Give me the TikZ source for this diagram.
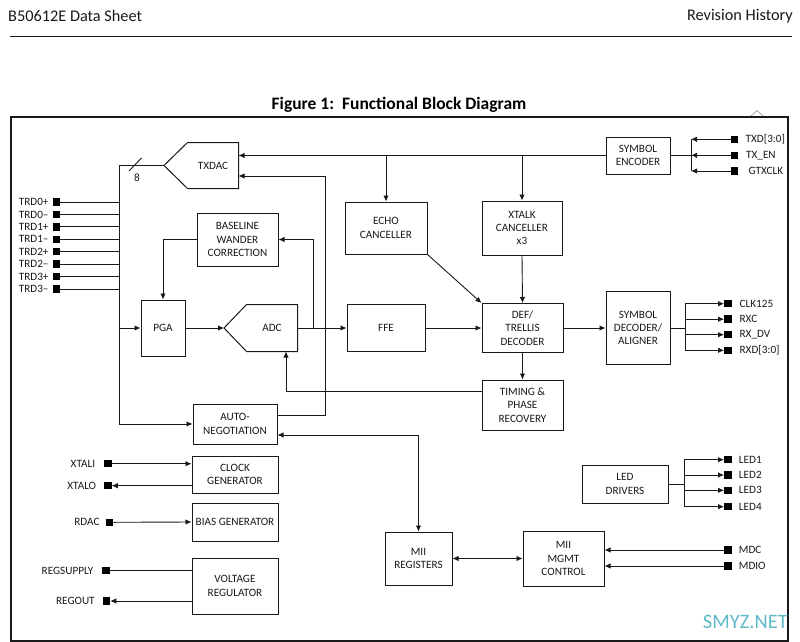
\documentclass[tikz,border=0pt]{standalone}
\usepackage{fontspec}
\setmainfont{Carlito}
\usetikzlibrary{arrows.meta,calc}
\definecolor{wm}{RGB}{95,185,200}
\definecolor{ink}{RGB}{25,25,25}
\begin{document}
\begin{tikzpicture}[x=1pt,y=-1pt,
  every node/.style={font=\fontsize{11.2}{13.3}\selectfont, text=ink},
  blk/.style={draw=ink, line width=1pt, align=center, inner sep=0pt},
  pin/.style={fill=black, minimum size=7.5pt, inner sep=0pt},
  wire/.style={line width=0.9pt, draw=ink},
  arr/.style={wire, -{Latex[length=6pt,width=5.5pt]}},
  arrb/.style={wire, {Latex[length=6pt,width=5.5pt]}-{Latex[length=6pt,width=5.5pt]}},
  lbl/.style={inner sep=0pt}]
\useasboundingbox (0,0) rectangle (800,642);

% header
\node[lbl, anchor=west, font=\fontsize{16.3}{19}\selectfont] (hdrl) at (8,16) {B50612E Data Sheet};
\node[lbl, anchor=east, font=\fontsize{16.3}{19}\selectfont] (hdrr) at (793,16) {Revision History};
\draw[line width=1.5pt, ink] (10,36.5) -- (792,36.5);
\node[lbl, font=\bfseries\fontsize{17.5}{20}\selectfont, text=black] (title) at (399,105) {Figure 1:\ \ Functional Block Diagram};
\draw[line width=0.5pt, black!50] (751,116) -- (757,110.5) -- (763,116);

% frame
\draw[line width=1.8pt, ink] (11,117) rectangle (788,641);

% TXDAC
\node[blk, draw=none, minimum width=50pt, minimum height=45pt] (txdac) at (213,165.5) {TXDAC};
\coordinate (txtip) at (164,165.5);
\draw[line width=1pt, ink] (txtip) -- (txdac.north west) -- (txdac.north east) -- (txdac.south east) -- (txdac.south west) -- cycle;

% ADC
\node[blk, draw=none, minimum width=50pt, minimum height=46pt] (adc) at (272,328) {ADC};
\coordinate (adctip) at (224,328);
\draw[line width=1pt, ink] (adctip) -- (adc.north west) -- (adc.north east) -- (adc.south east) -- (adc.south west) -- cycle;

% blocks
\node[blk, minimum width=81pt, minimum height=53pt] (blw) at (237.5,239.5) {BASELINE\\WANDER\\CORRECTION};
\node[blk, minimum width=44pt, minimum height=56pt] (pga) at (163,328) {PGA};
\node[blk, minimum width=84pt, minimum height=40pt] (autoneg) at (235,424) {AUTO-\\NEGOTIATION};
\node[blk, minimum width=82pt, minimum height=52pt] (echo) at (386,228) {ECHO\\CANCELLER};
\node[blk, minimum width=80pt, minimum height=54pt] (xtalk) at (522,228) {XTALK\\CANCELLER\\x3};
\node[blk, minimum width=64pt, minimum height=37pt] (symenc) at (638,155.5) {SYMBOL\\ENCODER};
\node[blk, minimum width=78pt, minimum height=47pt] (ffe) at (386,328) {FFE};
\node[blk, minimum width=81pt, minimum height=49pt] (def) at (522.5,328) {DEF/\\TRELLIS\\DECODER};
\node[blk, minimum width=64pt, minimum height=73pt] (symdec) at (638,328) {SYMBOL\\DECODER/\\ALIGNER};
\node[blk, minimum width=81pt, minimum height=50pt] (timing) at (522.5,405) {TIMING \&\\PHASE\\RECOVERY};
\node[blk, minimum width=86pt, minimum height=37pt] (clock) at (235,474.5) {CLOCK\\GENERATOR};
\node[blk, minimum width=86pt, minimum height=38pt] (bias) at (235,522) {BIAS GENERATOR};
\node[blk, minimum width=86pt, minimum height=56pt] (vreg) at (235,586) {VOLTAGE\\REGULATOR};
\node[blk, minimum width=67pt, minimum height=53pt] (miireg) at (418.5,558.5) {MII\\REGISTERS};
\node[blk, minimum width=81pt, minimum height=55pt] (mgmt) at (563.5,558.5) {MII\\MGMT\\CONTROL};
\node[blk, minimum width=86pt, minimum height=38pt] (led) at (625,484) {LED\\DRIVERS};

% TRD pins and bus
\coordinate (bustop) at (119,165.5);
\coordinate (busbot) at (119,424);
\draw[wire] (txtip) -- (bustop) -- (busbot);
\draw[wire] (129,171) -- (141.5,158);
\node[lbl] (eight) at (137,178) {8};
\foreach \t [count=\i from 0] in {TRD0+,TRD0–,TRD1+,TRD1–,TRD2+,TRD2–,TRD3+,TRD3–}{
  \node[pin] (trd\i) at (56.5,202+12.43*\i) {};
  \node[lbl, anchor=east] at ($(trd\i.west)+(-3.8,0)$) {\t};
  \draw[wire] (trd\i.east) -- (trd\i.east -| bustop);
}
\draw[arr] (pga.west -| bustop) -- (pga.west);
\draw[arr] (autoneg.west -| bustop) -- (autoneg.west);

% receive path
\draw[arr] (blw.west) -| (pga.north);
\draw[arr] (pga.east) -- (adctip);
\draw[arr] (adc.east) -- (ffe.west);
\coordinate (j1) at (313,328);
\draw[arr] (j1) |- (blw.east);
\draw[arr] (ffe.east) -- (def.west);
\draw[arr] (echo.south east) -- (def.north west);
\draw[arr] (xtalk.south) -- (def.north);
\draw[arr] (def.south) -- (timing.north);
\draw[arr] (def.east) -- (symdec.west);
\draw[arr] ($(timing.west)+(0,-14)$) -| ($(adc.south)+(14,0)$);

% transmit path
\draw[arr] (symenc.west) -- (txdac.east |- symenc.west);
\draw[arr] (echo.north |- symenc.west) -- (echo.north);
\draw[arr] (xtalk.north |- symenc.west) -- (xtalk.north);
\coordinate (ctx) at (325,176);
\draw[arr] ($(autoneg.east)+(0,-9)$) -| (ctx) -- (ctx -| txdac.east);
\draw[arrb] ($(autoneg.east)+(0,11)$) -| (miireg.north);
\draw[arrb] (miireg.east) -- (mgmt.west);

% encoder pins
\coordinate (encbus) at (691,155.5);
\node[pin] (ptxd) at (734.5,139.3) {};
\node[pin] (ptxen) at (734.5,155.3) {};
\node[pin] (pgtx) at (734.5,171) {};
\node[lbl, anchor=west] at ($(ptxd.east)+(7,0)$) {TXD[3:0]};
\node[lbl, anchor=west] at ($(ptxen.east)+(7.5,0)$) {TX\_EN};
\node[lbl, anchor=west] at ($(pgtx.east)+(10,0)$) {GTXCLK};
\draw[wire] (symenc.east) -- (encbus);
\draw[wire] (ptxd.west -| encbus) -- (pgtx.west -| encbus);
\foreach \p in {ptxd,ptxen,pgtx}{ \draw[arr] (\p.west) -- (\p.west -| encbus); }

% decoder pins
\coordinate (decbus) at (685,328);
\foreach \t/\y [count=\i] in {CLK125/303.7,RXC/319.2,RX\_DV/334.7,RXD[3:0]/350.3}{
  \node[pin] (prx\i) at (728,\y) {};
  \node[lbl, anchor=west] at ($(prx\i.east)+(7.5,0)$) {\t};
  \draw[arr] (prx\i.west -| decbus) -- (prx\i.west);
}
\draw[wire] (symdec.east) -- (decbus);
\draw[wire] (prx1.west -| decbus) -- (prx4.west -| decbus);

% LED pins
\coordinate (ledbus) at (684.3,484);
\foreach \t/\y [count=\i] in {LED1/459.7,LED2/475,LED3/490.3,LED4/506.7}{
  \node[pin] (pled\i) at (728,\y) {};
  \node[lbl, anchor=west] at ($(pled\i.east)+(6.8,0)$) {\t};
  \draw[arr] (pled\i.west -| ledbus) -- (pled\i.west);
}
\draw[wire] (led.east) -- (ledbus);
\draw[wire] (pled1.west -| ledbus) -- (pled4.west -| ledbus);

% MDC / MDIO
\node[pin] (pmdc) at (728,550) {};
\node[pin] (pmdio) at (728,566) {};
\node[lbl, anchor=west] at ($(pmdc.east)+(6.8,0)$) {MDC};
\node[lbl, anchor=west] at ($(pmdio.east)+(6.8,0)$) {MDIO};
\draw[arr] (pmdc.west) -- (pmdc.west -| mgmt.east);
\draw[arr] (pmdio.west) -- (pmdio.west -| mgmt.east);

% bottom-left pins
\node[pin] (pxi) at (107.8,463.7) {};
\node[pin] (pxo) at (107.8,485.7) {};
\node[pin] (prdac) at (109.7,522.3) {};
\node[pin] (prs) at (106,570.5) {};
\node[pin] (pro) at (106.3,601) {};
\node[lbl, anchor=east] at ($(pxi.west)+(-8.5,0)$) {XTALI};
\node[lbl, anchor=east] at ($(pxo.west)+(-7.5,0)$) {XTALO};
\node[lbl, anchor=east] at ($(prdac.west)+(-6,0)$) {RDAC};
\node[lbl, anchor=east] at ($(prs.west)+(-8.5,0)$) {REGSUPPLY};
\node[lbl, anchor=east] at ($(pro.west)+(-7.5,0)$) {REGOUT};
\draw[arr] (pxi.east) -- (pxi.east -| clock.west);
\draw[arr] (pxo.east -| clock.west) -- (pxo.east);
\draw[arr] (prdac.east) -- (bias.west);
\draw[wire] (prs.east) -- (prs.east -| vreg.west);
\draw[arr] (pro.east -| vreg.west) -- (pro.east);

% watermark
\node[lbl, anchor=east, font=\fontsize{20.5}{24}\selectfont, text=wm] (wmark) at (788,622) {SMYZ.NET};
\end{tikzpicture}
\end{document}
